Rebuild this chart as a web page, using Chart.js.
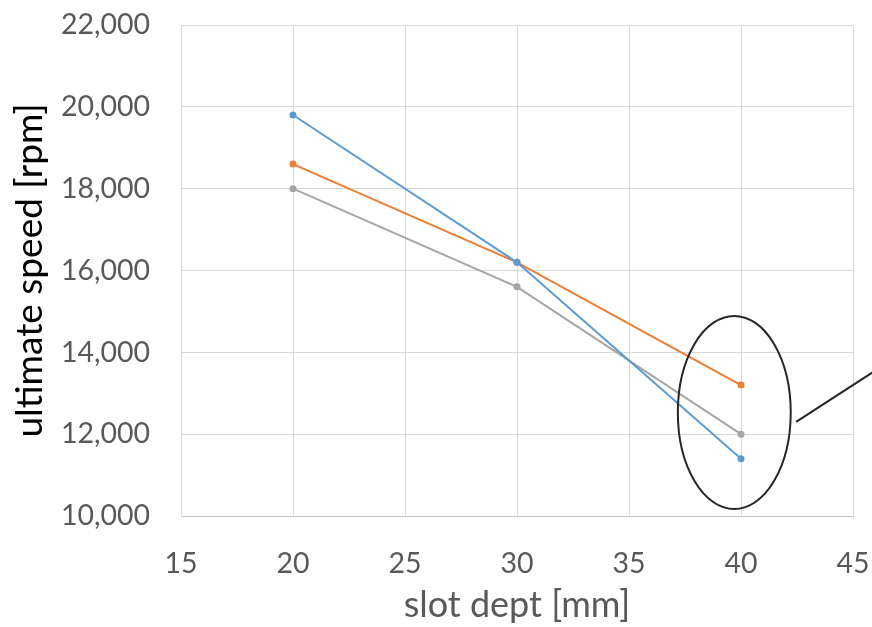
<!DOCTYPE html>
<html>
<head>
<meta charset="utf-8">
<script src="https://cdn.jsdelivr.net/npm/chart.js@4/dist/chart.umd.min.js"></script>
<style>
html,body{margin:0;padding:0;background:#fff;}
#wrap{width:872px;height:627px;position:relative;}
</style>
</head>
<body>
<div id="wrap"><canvas id="c" width="872" height="627"></canvas></div>
<script>
const slotDepth = [20, 30, 40];
const seriesBlue = [19800, 16200, 11400];
const seriesOrange = [18600, 16200, 13200];
const seriesGray = [18000, 15600, 12000];
const xTicks = [15, 20, 25, 30, 35, 40, 45];
const yTicks = [10000, 12000, 14000, 16000, 18000, 20000, 22000];

// annotation ellipse (data units) and leader line
const ellipseCenter = {x: 39.7, y: 12530};
const ellipseRadius = {x: 2.52, y: 2360};
const leaderStart = {x: 42.46, y: 12300};
const leaderEnd = {x: 45.9, y: 13520};

const toPts = (ys) => slotDepth.map((x, i) => ({x: x, y: ys[i]}));

const annotationPlugin = {
  id: 'ellipseNote',
  afterDatasetsDraw(chart) {
    const ctx = chart.ctx, xs = chart.scales.x, ys = chart.scales.y;
    const cx = xs.getPixelForValue(ellipseCenter.x), cy = ys.getPixelForValue(ellipseCenter.y);
    const rx = Math.abs(xs.getPixelForValue(ellipseCenter.x + ellipseRadius.x) - cx);
    const ry = Math.abs(ys.getPixelForValue(ellipseCenter.y + ellipseRadius.y) - cy);
    ctx.save();
    ctx.strokeStyle = '#262626';
    ctx.lineWidth = 2;
    ctx.beginPath();
    ctx.ellipse(cx, cy, rx, ry, 0, 0, Math.PI * 2);
    ctx.stroke();
    ctx.beginPath();
    ctx.moveTo(xs.getPixelForValue(leaderStart.x), ys.getPixelForValue(leaderStart.y));
    ctx.lineTo(xs.getPixelForValue(leaderEnd.x), ys.getPixelForValue(leaderEnd.y));
    ctx.stroke();
    ctx.restore();
  }
};

const mk = (label, data, color) => ({
  label, data: toPts(data), borderColor: color, backgroundColor: color,
  showLine: true, borderWidth: 2, pointRadius: 3.5, pointHoverRadius: 3.5,
  pointBorderWidth: 0, tension: 0
});

new Chart(document.getElementById('c'), {
  type: 'scatter',
  data: { datasets: [
    mk('Series1', seriesBlue, '#5b9bd5'),
    mk('Series2', seriesOrange, '#ed7d31'),
    mk('Series3', seriesGray, '#a5a5a5')
  ]},
  options: {
    responsive: false, animation: false, devicePixelRatio: 1,
    layout: { padding: { left: 8, right: 19, top: 25, bottom: 0 } },
    plugins: { legend: { display: false }, tooltip: { enabled: false } },
    scales: {
      x: {
        type: 'linear', min: 15, max: 45,
        afterBuildTicks: (s) => { s.ticks = xTicks.map(v => ({value: v})); },
        afterFit: (s) => { s.height = 111; s.paddingLeft = 0; s.paddingRight = 0; },
        grid: { color: '#d9d9d9', lineWidth: 1, drawTicks: false },
        border: { color: '#bfbfbf', width: 1 },
        ticks: { padding: 31, color: '#595959', font: { family: 'Lato', size: 28.5 } },
        title: { display: true, text: 'slot dept [mm]', color: '#595959', font: { family: 'Lato', size: 36 }, padding: { top: 0, bottom: 0 } }
      },
      y: {
        type: 'linear', min: 10000, max: 22000,
        afterBuildTicks: (s) => { s.ticks = yTicks.map(v => ({value: v})); },
        afterFit: (s) => { s.width = 173; s.paddingTop = 0; s.paddingBottom = 0; },
        grid: { color: '#d9d9d9', lineWidth: 1, drawTicks: false },
        border: { color: '#d9d9d9', width: 1 },
        ticks: { padding: 31, color: '#595959', font: { family: 'Lato', size: 28.5 },
          callback: (v) => v.toLocaleString('en-US') },
        title: { display: true, text: 'ultimate speed [rpm]', color: '#000000', font: { family: 'Lato', size: 37 }, padding: { top: 0, bottom: 0 } }
      }
    }
  },
  plugins: [annotationPlugin]
});
</script>
</body>
</html>
